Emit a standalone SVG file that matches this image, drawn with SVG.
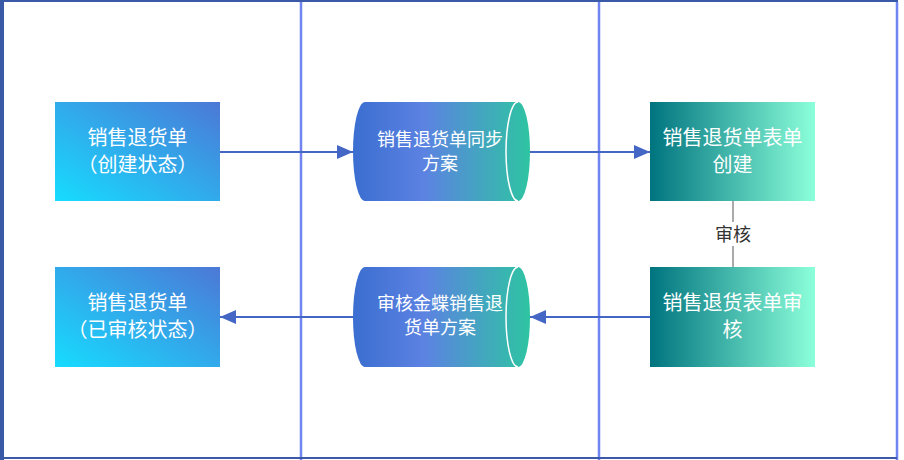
<svg xmlns="http://www.w3.org/2000/svg" width="904" height="460" viewBox="0 0 904 460">
<defs>
<linearGradient id="gBox" x1="0" y1="1" x2="1" y2="0">
<stop offset="0" stop-color="#16dcff"/>
<stop offset="1" stop-color="#4c78d6"/>
</linearGradient>
<linearGradient id="gCyl" x1="0" y1="0" x2="1" y2="0">
<stop offset="0" stop-color="#3a6ed0"/>
<stop offset="0.4" stop-color="#5c82e2"/>
<stop offset="1" stop-color="#2ec4a2"/>
</linearGradient>
<linearGradient id="gTeal" x1="0" y1="0" x2="1" y2="0">
<stop offset="0" stop-color="#00747f"/>
<stop offset="1" stop-color="#8cffda"/>
</linearGradient>
<marker id="arr" markerWidth="16" markerHeight="14" refX="16" refY="7" orient="auto" markerUnits="userSpaceOnUse">
<path d="M0,0 L16,7 L0,14 Z" fill="#4466c4"/>
</marker>
<style>
.t{font-family:"Noto Sans CJK SC","Noto Sans",sans-serif;fill:#ffffff;text-anchor:middle;}
.b{font-size:20px;}
.c{font-size:18px;}
.lbl{font-family:"Noto Sans CJK SC","Noto Sans",sans-serif;font-size:18px;fill:#333333;text-anchor:middle;}
.conn{stroke:#4466c4;stroke-width:2;fill:none;}
.lane{stroke:#7084f2;stroke-width:2.5;}
</style>
</defs>
<g id="frame">
<rect x="1" y="1" width="896" height="457" fill="#ffffff" stroke="#3a5aa8" stroke-width="2"/>
<line x1="2" y1="0" x2="2" y2="460" stroke="#3a5aa8" stroke-width="4"/>
<line class="lane" x1="301" y1="2" x2="301" y2="460"/>
<line class="lane" x1="599" y1="2" x2="599" y2="460"/>
<line class="lane" x1="897" y1="2" x2="897" y2="460"/>
<line x1="0" y1="458" x2="897" y2="458" stroke="#3a5aa8" stroke-width="2"/>
<line x1="0" y1="1" x2="897" y2="1" stroke="#3a5aa8" stroke-width="2"/>
</g>
<g id="connectors">
<line class="conn" x1="220" y1="152" x2="353" y2="152" marker-end="url(#arr)"/>
<line class="conn" x1="530" y1="152" x2="650" y2="152" marker-end="url(#arr)"/>
<line class="conn" x1="650" y1="317" x2="530" y2="317" marker-end="url(#arr)"/>
<line class="conn" x1="353" y1="317" x2="220" y2="317" marker-end="url(#arr)"/>
<line x1="733" y1="201" x2="733" y2="267" stroke="#aaaaaa" stroke-width="2"/>
<rect x="713" y="222" width="40" height="24" fill="#ffffff"/>
<text class="lbl" x="733" y="240.5">审核</text>
</g>
<g id="n1">
<rect x="55" y="102" width="165" height="99" fill="url(#gBox)"/>
<text class="t b" x="137.5" y="145">销售退货单</text>
<text class="t b" x="137.5" y="172">（创建状态）</text>
</g>
<g id="n2">
<path d="M365,102 L518,102 A12,49.5 0 0 1 518,201 L365,201 A12,49.5 0 0 1 365,102 Z" fill="url(#gCyl)"/>
<path d="M518,102 A12,49.5 0 0 0 518,201" fill="none" stroke="#ffffff" stroke-width="1.5"/>
<text class="t c" x="440" y="146">销售退货单同步</text>
<text class="t c" x="440" y="170">方案</text>
</g>
<g id="n3">
<rect x="650" y="102" width="165" height="99" fill="url(#gTeal)"/>
<text class="t b" x="732.5" y="145">销售退货单表单</text>
<text class="t b" x="732.5" y="172">创建</text>
</g>
<g id="n4">
<rect x="650" y="267" width="165" height="100" fill="url(#gTeal)"/>
<text class="t b" x="732.5" y="310">销售退货表单审</text>
<text class="t b" x="732.5" y="337">核</text>
</g>
<g id="n5">
<path d="M365,267 L518,267 A12,50 0 0 1 518,367 L365,367 A12,50 0 0 1 365,267 Z" fill="url(#gCyl)"/>
<path d="M518,267 A12,50 0 0 0 518,367" fill="none" stroke="#ffffff" stroke-width="1.5"/>
<text class="t c" x="440" y="310">审核金蝶销售退</text>
<text class="t c" x="440" y="334">货单方案</text>
</g>
<g id="n6">
<rect x="55" y="267" width="165" height="100" fill="url(#gBox)"/>
<text class="t b" x="137.5" y="310">销售退货单</text>
<text class="t b" x="137.5" y="337">（已审核状态）</text>
</g>
</svg>
